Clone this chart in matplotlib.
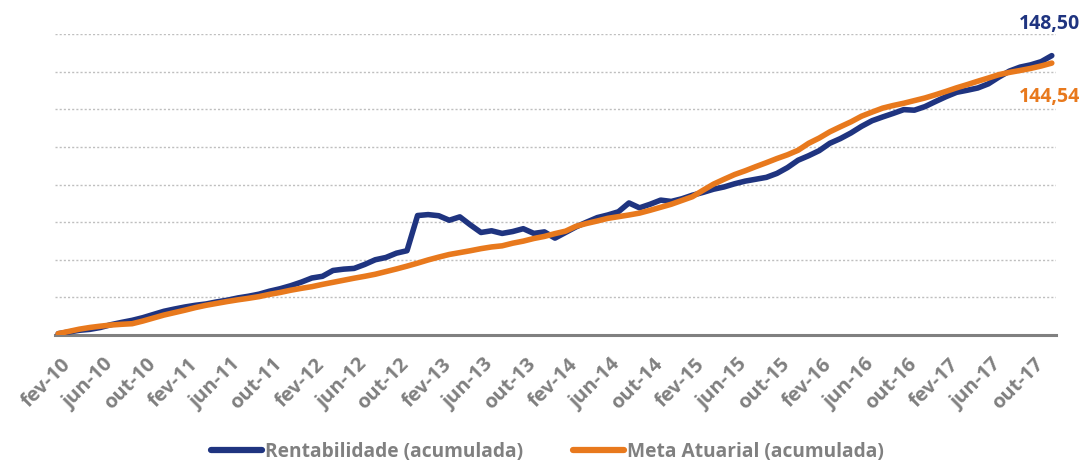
import matplotlib
matplotlib.use("Agg")
import matplotlib.pyplot as plt
import matplotlib.transforms as mtransforms
import numpy as np

# meses jan-10 .. nov-17 (rótulo a cada 4 meses a partir de fev-10)
meses = ["jan", "fev", "mar", "abr", "mai", "jun", "jul", "ago", "set", "out", "nov", "dez"]
categorias = [f"{meses[i % 12]}-{10 + i // 12}" for i in range(95)]

rentabilidade = [0.7, 1.6, 2.5, 3.0, 4.0, 5.5, 6.7, 7.8, 9.2, 10.9,
                 12.6, 13.8, 14.9, 15.8, 16.5, 17.6, 18.5, 19.7, 20.6, 21.7,
                 23.3, 24.6, 26.2, 28.1, 30.3, 31.2, 34.3, 35.0, 35.4, 37.5,
                 40.0, 41.2, 43.5, 44.8, 63.5, 64.0, 63.4, 61.0, 62.8, 58.5,
                 54.5, 55.4, 54.0, 55.0, 56.5, 54.0, 54.8, 51.5, 54.5, 57.5,
                 60.0, 62.4, 63.8, 65.5, 70.2, 67.6, 69.5, 71.7, 71.0, 72.4,
                 74.3, 75.8, 77.5, 78.7, 80.4, 81.8, 82.8, 83.8, 85.9, 89.0,
                 92.9, 95.3, 98.0, 101.9, 104.4, 107.4, 110.9, 113.9, 115.9, 117.8,
                 119.8, 119.5, 121.4, 124.1, 126.7, 129.0, 130.1, 131.3, 133.5, 137.1,
                 140.3, 142.4, 143.6, 145.3, 148.50]

meta = [0.7, 1.9, 3.1, 4.0, 4.7, 5.3, 5.7, 6.0, 7.4, 9.0,
        10.6, 11.9, 13.2, 14.6, 15.8, 16.8, 17.8, 18.7, 19.5, 20.4,
        21.6, 22.6, 23.8, 24.8, 25.7, 26.9, 28.0, 29.1, 30.2, 31.2,
        32.3, 33.7, 35.1, 36.6, 38.2, 39.9, 41.4, 42.8, 43.8, 44.8,
        45.9, 46.8, 47.4, 48.8, 49.9, 51.3, 52.4, 53.9, 55.2, 57.8,
        59.3, 60.6, 62.0, 62.9, 63.8, 64.8, 66.3, 67.9, 69.5, 71.5,
        73.5, 76.9, 80.2, 82.8, 85.3, 87.3, 89.5, 91.6, 93.8, 95.8,
        98.2, 101.9, 104.7, 108.0, 110.7, 113.3, 116.3, 118.5, 120.6, 122.0,
        123.2, 124.6, 126.0, 127.7, 129.5, 131.4, 133.1, 134.9, 136.6, 138.4,
        139.6, 140.6, 141.7, 143.0, 144.54]

azul = "#1F3480"
laranja = "#E8791D"
cinza = "#808080"

plt.rcParams["font.family"] = ["Open Sans", "DejaVu Sans"]

fig = plt.figure(figsize=(10.87, 4.62), dpi=100)
ax = fig.add_axes([55 / 1087, 1 - 335 / 462, 1001 / 1087, 301 / 462])

x = np.arange(len(categorias))
ax.plot(x, rentabilidade, color=azul, lw=4, solid_capstyle="round",
        solid_joinstyle="round", label="Rentabilidade (acumulada)", zorder=3)
ax.plot(x, meta, color=laranja, lw=4, solid_capstyle="round",
        solid_joinstyle="round", label="Meta Atuarial (acumulada)", zorder=3)

ax.set_ylim(0, 160)
ax.set_xlim(-0.3, 94.4)
ax.set_yticks(np.arange(20, 161, 20))
ax.yaxis.grid(True, linestyle=(0, (1.5, 1.5)), color="#BFBFBF", lw=1)
ax.set_axisbelow(True)
ax.tick_params(axis="y", length=0, labelleft=False)

pos = x[1::4]
ax.set_xticks(pos)
ax.set_xticklabels([categorias[i] for i in pos], rotation=45, ha="right",
                   va="top", rotation_mode="anchor", fontsize=14.5,
                   fontweight="bold", color=cinza)
ax.tick_params(axis="x", length=0, pad=14)
desloca = mtransforms.ScaledTranslation(-8 / 100, 0, fig.dpi_scale_trans)
for lab in ax.get_xticklabels():
    lab.set_transform(lab.get_transform() + desloca)

for s in ["top", "right", "left"]:
    ax.spines[s].set_visible(False)
ax.spines["bottom"].set_color("#808080")
ax.spines["bottom"].set_linewidth(2.2)

fig.text(1050 / 1087, 1 - 24 / 462, "148,50", color=azul, fontsize=14,
         fontweight="bold", ha="center", va="center")
fig.text(1050 / 1087, 1 - 97 / 462, "144,54", color=laranja, fontsize=14,
         fontweight="bold", ha="center", va="center")

leg = fig.legend(loc="center", bbox_to_anchor=(547 / 1087, 1 - 452 / 462), ncol=2,
                 frameon=False, handlelength=2.7, handletextpad=0.12,
                 columnspacing=2.6, prop={"size": 13.8, "weight": "bold"})
for t in leg.get_texts():
    t.set_color(cinza)
for h in leg.get_lines():
    h.set_linewidth(4.5)

fig.savefig("out.png", dpi=100)
